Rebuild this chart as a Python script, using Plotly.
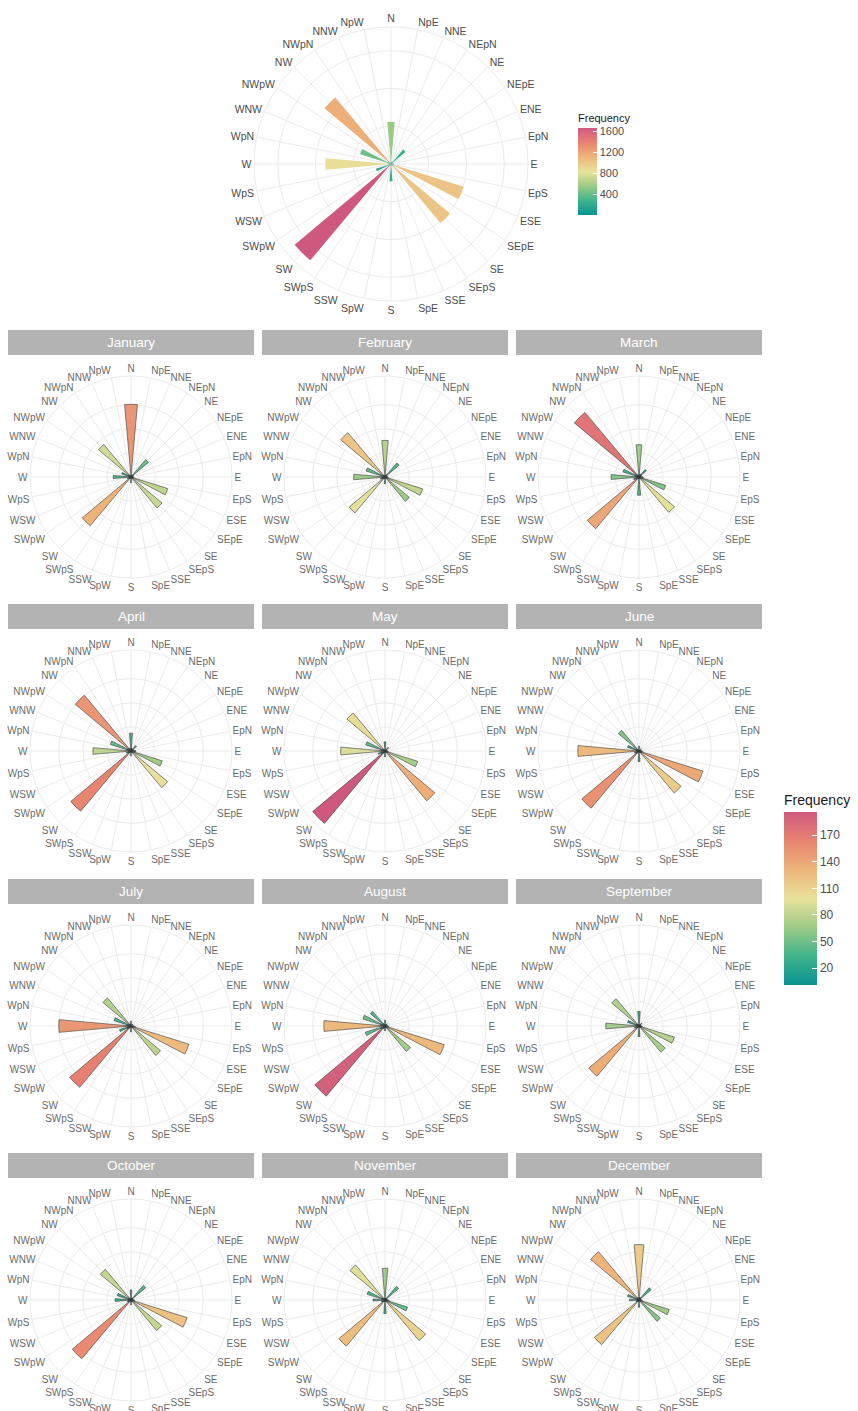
import plotly.graph_objects as go

DIRS = ["N", "NpE", "NNE", "NEpN", "NE", "NEpE", "ENE", "EpN", "E", "EpS", "ESE", "SEpE",
        "SE", "SEpS", "SSE", "SpE", "S", "SpW", "SSW", "SWpS", "SW", "SWpW", "WSW", "WpS",
        "W", "WpN", "WNW", "NWpW", "NW", "NWpN", "NNW", "NpW"]

MONTHS = ["January", "February", "March", "April", "May", "June", "July", "August",
          "September", "October", "November", "December"]

TOTAL = [560, 25, 30, 35, 250, 30, 20, 15, 30, 40, 1010, 40, 1020, 25, 20, 15, 230, 20, 15, 25,
         1665, 40, 210, 30, 870, 40, 430, 45, 1150, 30, 25, 10]

JAN = [151, 4, 3, 5, 47, 6, 4, 3, 5, 6, 80, 5, 84, 4, 3, 2, 12, 3, 2, 4, 132, 5, 8, 4, 37, 6, 20, 7, 88, 5, 3, 4]
FEB = [76, 3, 4, 6, 38, 5, 3, 2, 6, 7, 82, 6, 66, 3, 2, 3, 14, 2, 3, 5, 97, 6, 10, 5, 65, 7, 41, 8, 120, 4, 3, 2]
MAR = [67, 5, 4, 7, 20, 6, 4, 3, 8, 9, 58, 7, 96, 5, 4, 3, 38, 4, 3, 5, 140, 8, 12, 6, 58, 8, 35, 9, 175, 6, 4, 3]
APR = [37, 6, 5, 4, 15, 5, 6, 4, 10, 8, 68, 6, 99, 4, 3, 2, 10, 3, 2, 4, 163, 7, 10, 5, 79, 9, 45, 8, 151, 7, 5, 4]
MAY = [19, 3, 2, 3, 10, 4, 3, 2, 5, 7, 71, 5, 135, 4, 3, 2, 12, 3, 4, 6, 196, 9, 15, 7, 92, 8, 42, 7, 103, 4, 2, 1]
JUN = [10, 2, 1, 2, 6, 3, 2, 3, 6, 8, 139, 7, 114, 5, 3, 2, 22, 3, 2, 5, 155, 8, 10, 6, 127, 7, 25, 6, 56, 4, 2, 1]
JUL = [10, 2, 2, 3, 5, 3, 2, 2, 5, 9, 126, 6, 80, 4, 2, 3, 12, 2, 3, 6, 166, 9, 25, 8, 150, 9, 37, 7, 76, 5, 3, 2]
AUG = [12, 3, 2, 3, 6, 4, 3, 2, 6, 8, 129, 6, 69, 5, 3, 2, 10, 3, 4, 7, 190, 10, 43, 8, 127, 9, 48, 8, 40, 6, 3, 2]
SEP = [30, 3, 2, 3, 8, 4, 3, 2, 5, 7, 77, 5, 71, 4, 3, 2, 22, 3, 2, 5, 136, 7, 10, 6, 69, 7, 25, 6, 74, 5, 3, 2]
OCT = [21, 4, 3, 5, 40, 5, 4, 3, 6, 8, 122, 6, 83, 4, 3, 2, 10, 3, 2, 4, 159, 6, 8, 5, 33, 6, 30, 7, 83, 5, 4, 3]
NOV = [66, 4, 3, 5, 37, 5, 4, 3, 6, 9, 49, 6, 110, 5, 4, 3, 28, 3, 2, 4, 125, 6, 8, 5, 25, 6, 39, 7, 95, 5, 4, 3]
DEC = [115, 5, 4, 6, 33, 5, 4, 3, 5, 7, 66, 5, 58, 4, 3, 2, 15, 3, 2, 4, 121, 6, 6, 4, 20, 5, 25, 7, 131, 6, 5, 4]

MONTHLY = [JAN, FEB, MAR, APR, MAY, JUN, JUL, AUG, SEP, OCT, NOV, DEC]

TOTAL_TICKS = [400, 800, 1200, 1600]
MONTH_TICKS = [20, 50, 80, 110, 140, 170]
TOTAL_GRID = [500, 1000, 1500]
MONTH_GRID = [50, 100, 150]

TEMPS = ["#089392", "#40B48B", "#9CCB86", "#E9E29C", "#EEB479", "#E88471", "#CF597E"]
COLORSCALE = [[i / (len(TEMPS) - 1), c] for i, c in enumerate(TEMPS)]

W, H = 858, 1411
FONT = "Liberation Sans, Arial, sans-serif"
GRID = "#EBEBEB"


def domain(cx, cy, r):
    return dict(x=[(cx - r) / W, (cx + r) / W], y=[1 - (cy + r) / H, 1 - (cy - r) / H])


def polar_layout(dom, rmax, gridvals, fsize, fcolor):
    return dict(
        domain=dom, bgcolor="white", bargap=0.1, hole=0,
        angularaxis=dict(direction="clockwise", rotation=90, type="category",
                         categoryarray=DIRS, showline=True, linecolor=GRID, linewidth=1,
                         gridcolor=GRID, gridwidth=1, ticks="",
                         tickfont=dict(size=fsize, color=fcolor, family=FONT)),
        radialaxis=dict(range=[0, rmax], showticklabels=False, ticks="", showline=False,
                        gridcolor=GRID, gridwidth=1, tickvals=gridvals),
    )


fig = go.Figure()

fig.add_trace(go.Barpolar(
    r=TOTAL, theta=DIRS, subplot="polar", name="All",
    marker=dict(color=TOTAL, coloraxis="coloraxis", line=dict(width=0)),
))

month_max = max(max(m) for m in MONTHLY)
for i, vals in enumerate(MONTHLY):
    fig.add_trace(go.Barpolar(
        r=vals, theta=DIRS, subplot=f"polar{i + 2}", name=MONTHS[i],
        marker=dict(color=vals, coloraxis="coloraxis2", line=dict(color="#3a3a3a", width=0.6)),
    ))

layout = dict(
    width=W, height=H, margin=dict(l=0, r=0, t=0, b=0),
    paper_bgcolor="white", plot_bgcolor="white", showlegend=False,
    font=dict(family=FONT, color="#4D4D4D"),
)

layout["polar"] = polar_layout(domain(391, 164, 137), max(TOTAL) * 1.09, TOTAL_GRID, 10.5, "#4D4D4D")

col_x = [131, 385, 639]
row_y = [477, 751, 1026, 1300]
R_M = 101
shapes = []
annotations = []
strip_x = [(8, 254), (262, 508), (516, 762)]
strip_y = [330, 604, 879, 1153]
for i in range(12):
    r, c = divmod(i, 3)
    layout[f"polar{i + 2}"] = polar_layout(domain(col_x[c], row_y[r], R_M), month_max * 1.07,
                                           MONTH_GRID, 10, "#6b6b6b")
    x0, x1 = strip_x[c]
    y0 = strip_y[r]
    shapes.append(dict(type="rect", xref="paper", yref="paper", x0=x0 / W, x1=x1 / W,
                       y0=1 - (y0 + 25) / H, y1=1 - y0 / H, fillcolor="#B3B3B3",
                       line=dict(width=0), layer="below"))
    annotations.append(dict(text=MONTHS[i], xref="paper", yref="paper", x=(x0 + x1) / 2 / W,
                            y=1 - (y0 + 12.5) / H, showarrow=False, xanchor="center",
                            yanchor="middle", font=dict(size=13.5, color="white", family=FONT)))

layout["shapes"] = shapes
layout["annotations"] = annotations

layout["coloraxis"] = dict(
    colorscale=COLORSCALE,
    colorbar=dict(
        title=dict(text="Frequency", side="top", font=dict(size=11, color="#1a1a1a")),
        x=578 / W, xanchor="left", xpad=0, y=1 - 111 / H, yanchor="top", ypad=0,
        len=104, lenmode="pixels", thickness=19, thicknessmode="pixels",
        tickvals=TOTAL_TICKS, ticks="inside", tickcolor="white", ticklen=4,
        outlinewidth=0, tickfont=dict(size=11, color="#4D4D4D"),
    ),
)
layout["coloraxis2"] = dict(
    colorscale=COLORSCALE,
    colorbar=dict(
        title=dict(text="Frequency", side="top", font=dict(size=14, color="#1a1a1a")),
        x=784 / W, xanchor="left", xpad=0, y=1 - 791 / H, yanchor="top", ypad=0,
        len=194, lenmode="pixels", thickness=33, thicknessmode="pixels",
        tickvals=MONTH_TICKS, ticks="inside", tickcolor="white", ticklen=5,
        outlinewidth=0, tickfont=dict(size=12, color="#4D4D4D"),
    ),
)

fig.update_layout(**layout)
fig.write_html("out.html", config={"displayModeBar": False},
               post_script="document.body.style.margin='0px';document.body.style.padding='0px';")
